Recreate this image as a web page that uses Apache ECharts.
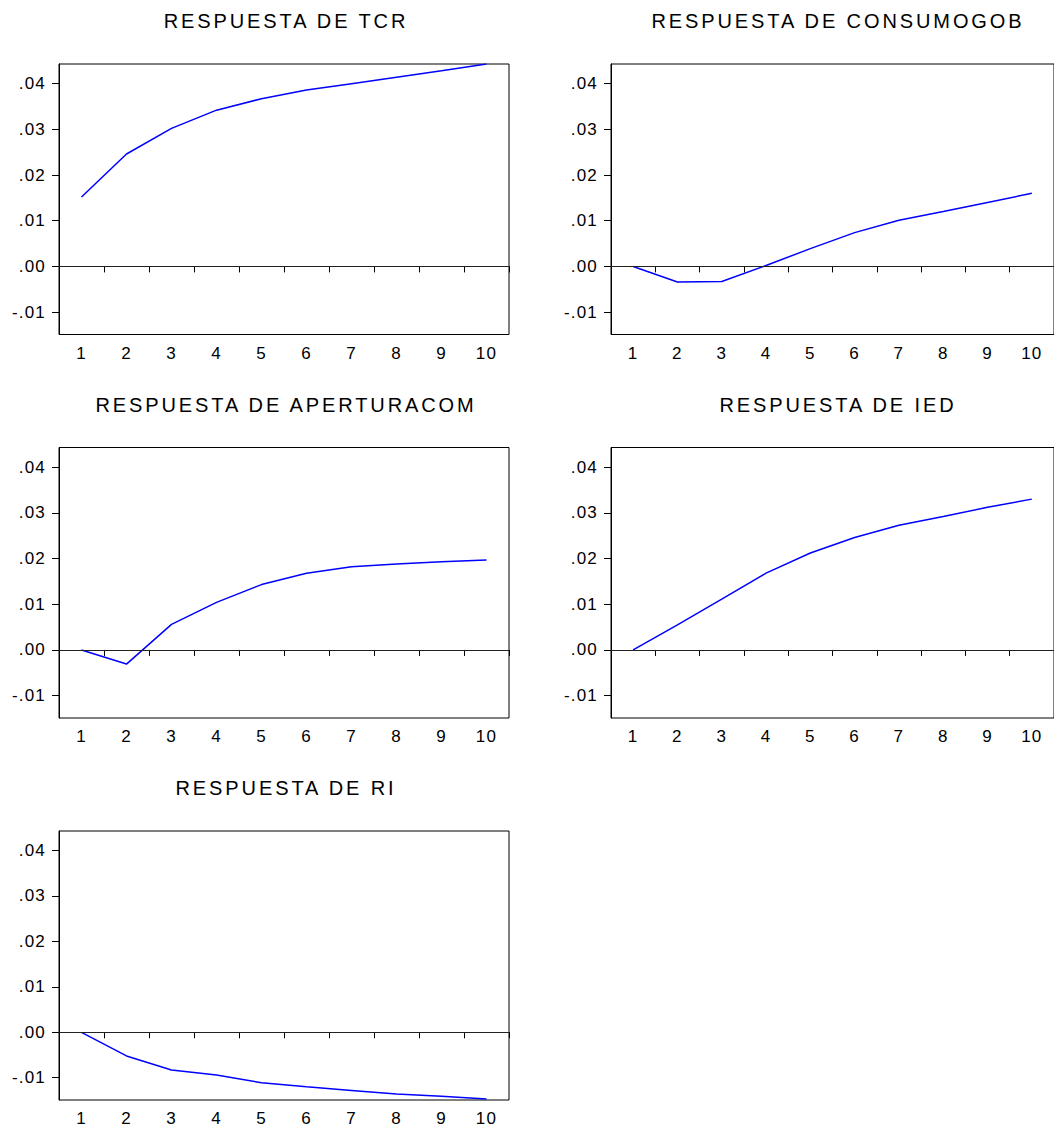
<!DOCTYPE html>
<html>
<head>
<meta charset="utf-8">
<script src="https://cdn.jsdelivr.net/npm/echarts@6/dist/echarts.min.js"></script>
<style>
html, body { margin: 0; padding: 0; background: #fff; overflow: hidden; }
#chart { width: 1054px; height: 1127px; }
</style>
</head>
<body>
<div id="chart"></div>
<script>
const categories = ['1', '2', '3', '4', '5', '6', '7', '8', '9', '10'];
const titles = ['RESPUESTA DE TCR', 'RESPUESTA DE CONSUMOGOB', 'RESPUESTA DE APERTURACOM', 'RESPUESTA DE IED', 'RESPUESTA DE RI'];
const tcr = [0.0152, 0.0246, 0.0302, 0.0342, 0.0367, 0.0386, 0.0400, 0.0414, 0.0428, 0.0443];
const consumogob = [0.0000, -0.0034, -0.0033, 0.0002, 0.0039, 0.0074, 0.0101, 0.0120, 0.0140, 0.0160];
const aperturacom = [0.0000, -0.0031, 0.0056, 0.0104, 0.0143, 0.0168, 0.0182, 0.0188, 0.0193, 0.0197];
const ied = [0.0000, 0.0055, 0.0111, 0.0168, 0.0212, 0.0246, 0.0273, 0.0292, 0.0312, 0.0330];
const ri = [0.0000, -0.0052, -0.0083, -0.0094, -0.0111, -0.0120, -0.0128, -0.0136, -0.0141, -0.0147];
const yTickValues = [-0.01, 0.00, 0.01, 0.02, 0.03, 0.04];
const yTickLabels = ['-.01', '.00', '.01', '.02', '.03', '.04'];
const yMin = -0.0149;
const yMax = 0.0443;

const seriesData = [tcr, consumogob, aperturacom, ied, ri];

const panelW = 450, panelH = 270.5;
const lefts = [59, 611, 59, 611, 59];
const tops = [64, 64, 447.5, 447.5, 831];
const FONT = 'Liberation Sans';

const grids = [], xAxes = [], yAxes = [], series = [], titleOpts = [];
for (let i = 0; i < 5; i++) {
  grids.push({
    left: lefts[i], top: tops[i], width: panelW, height: panelH,
    show: true, borderColor: '#000', borderWidth: 1, backgroundColor: '#fff'
  });
  xAxes.push({
    type: 'category', gridIndex: i, data: categories, boundaryGap: true,
    axisLine: { show: true, lineStyle: { color: '#000', width: 1 } },
    axisTick: { show: true, alignWithLabel: false, inside: false, length: 6, lineStyle: { color: '#000', width: 1 } },
    axisLabel: { show: true, interval: 0, margin: 10, color: '#000', fontSize: 17, fontFamily: FONT },
    splitLine: { show: false }
  });
  yAxes.push({
    type: 'value', gridIndex: i, min: yMin, max: yMax,
    axisLine: { show: true, lineStyle: { color: '#000', width: 1 } },
    axisTick: { show: true, inside: false, length: 7, customValues: yTickValues, lineStyle: { color: '#000', width: 1 } },
    axisLabel: {
      show: true, margin: 13, color: '#000', fontSize: 17, fontFamily: FONT,
      customValues: yTickValues,
      formatter: function (v) {
        const k = yTickValues.findIndex(t => Math.abs(t - v) < 1e-9);
        return k >= 0 ? yTickLabels[k] : '';
      }
    },
    splitLine: { show: false }
  });
  series.push({
    type: 'line', xAxisIndex: i, yAxisIndex: i, data: seriesData[i],
    symbol: 'none', showSymbol: false,
    lineStyle: { color: '#0000ff', width: 1.5 },
    itemStyle: { color: '#0000ff' },
    z: 3,
    markLine: {
      silent: true, symbol: ['none', 'none'], animation: false,
      label: { show: false },
      lineStyle: { color: '#222', width: 1, type: 'solid' },
      data: [{ yAxis: 0 }]
    }
  });
  titleOpts.push({
    text: titles[i],
    left: lefts[i] + panelW / 2 - 3,
    top: tops[i] - 58,
    textAlign: 'center',
    textStyle: { color: '#000', fontSize: 20, fontWeight: 'normal', fontFamily: FONT }
  });
}

const chart = echarts.init(document.getElementById('chart'), null, { renderer: 'svg', width: 1054, height: 1127 });
chart.setOption({
  animation: false,
  backgroundColor: '#fff',
  title: titleOpts,
  grid: grids,
  xAxis: xAxes,
  yAxis: yAxes,
  series: series
});

function applySpacing() {
  document.querySelectorAll('#chart svg text').forEach(function (t) {
    const fs = parseFloat(getComputedStyle(t).fontSize);
    if (fs >= 19) {
      t.style.letterSpacing = '2.9px';
    } else {
      t.style.letterSpacing = '1.2px';
    }
  });
}
applySpacing();
chart.on('finished', applySpacing);
setTimeout(applySpacing, 50);
setTimeout(applySpacing, 300);
</script>
</body>
</html>
